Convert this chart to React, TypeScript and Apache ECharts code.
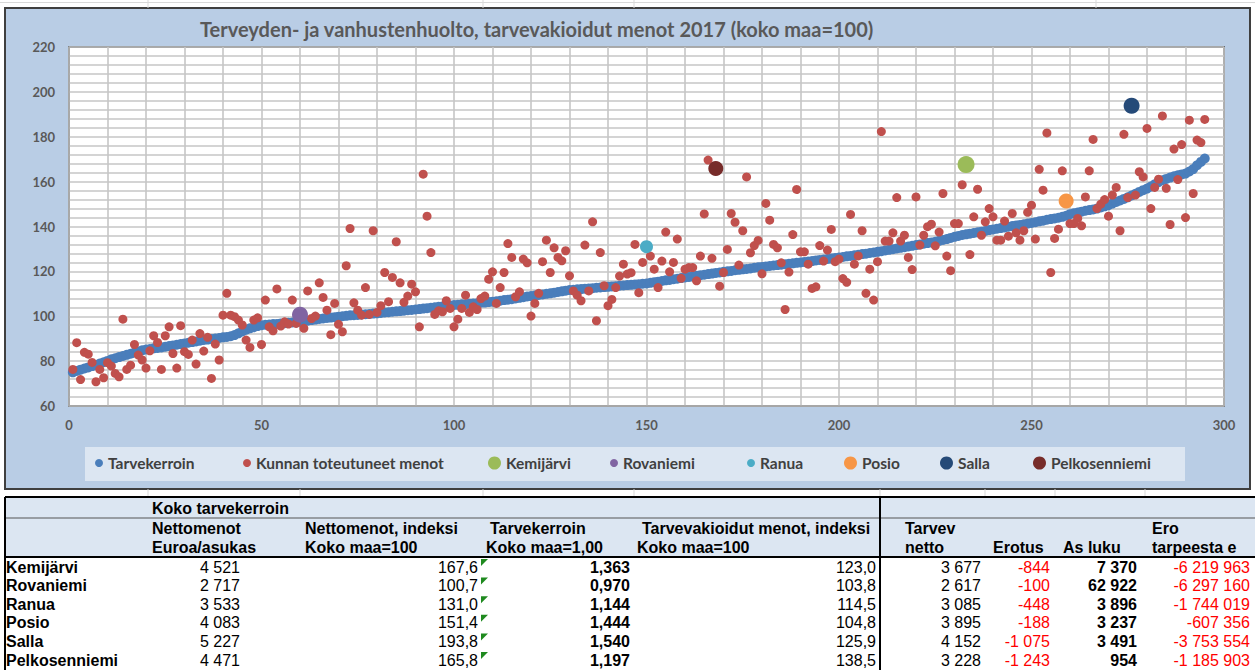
import React, { useEffect, useRef } from "react";
import * as echarts from "echarts";

const tarvekerroin = [
  75.0, 75.6, 76.2, 76.7, 77.2, 77.8, 78.3, 78.9, 79.5, 80.1,
  80.8, 81.3, 81.8, 82.3, 82.8, 83.3, 83.8, 84.3, 84.8, 85.2,
  85.4, 85.7, 85.9, 86.1, 86.4, 86.7, 87.0, 87.3, 87.6, 87.9,
  88.2, 88.5, 88.8, 89.1, 89.4, 89.6, 89.9, 90.1, 90.3, 90.6,
  90.8, 91.1, 91.6, 92.4, 93.2, 94.0, 94.6, 95.1, 95.6, 96.0,
  96.2, 96.3, 96.5, 96.6, 96.8, 96.9, 97.1, 97.2, 97.3, 97.5,
  97.8, 98.0, 98.3, 98.5, 98.8, 99.0, 99.2, 99.4, 99.6, 99.8,
  100.0, 100.2, 100.4, 100.5, 100.6, 100.8, 100.9, 101.0, 101.2, 101.3,
  101.5, 101.7, 101.8, 102.0, 102.2, 102.3, 102.5, 102.7, 102.8, 103.0,
  103.2, 103.4, 103.6, 103.8, 104.0, 104.2, 104.4, 104.6, 104.8, 105.0,
  105.1, 105.3, 105.4, 105.6, 105.7, 105.8, 106.0, 106.1, 106.3, 106.5,
  106.7, 106.9, 107.2, 107.4, 107.6, 107.9, 108.2, 108.5, 108.8, 109.0,
  109.2, 109.5, 109.7, 110.0, 110.2, 110.5, 110.8, 111.1, 111.4, 111.7,
  111.8, 112.0, 112.1, 112.3, 112.4, 112.5, 112.7, 112.8, 113.0, 113.1,
  113.3, 113.4, 113.6, 113.7, 113.9, 114.0, 114.2, 114.3, 114.5, 114.6,
  114.9, 115.2, 115.4, 115.7, 116.0, 116.2, 116.5, 116.7, 117.0, 117.3,
  117.5, 117.8, 118.0, 118.3, 118.5, 118.8, 119.0, 119.3, 119.5, 119.8,
  120.0, 120.2, 120.5, 120.7, 120.9, 121.1, 121.3, 121.6, 121.8, 122.0,
  122.2, 122.4, 122.6, 122.8, 123.0, 123.2, 123.4, 123.6, 123.8, 124.0,
  124.2, 124.4, 124.6, 124.9, 125.1, 125.3, 125.5, 125.7, 126.0, 126.2,
  126.4, 126.7, 126.9, 127.2, 127.4, 127.7, 127.9, 128.2, 128.4, 128.7,
  129.0, 129.3, 129.6, 129.9, 130.2, 130.5, 130.8, 131.1, 131.4, 131.7,
  132.0, 132.3, 132.6, 132.9, 133.2, 133.6, 134.0, 134.4, 134.9, 135.4,
  135.8, 136.2, 136.5, 136.8, 137.1, 137.4, 137.7, 138.0, 138.4, 138.7,
  139.0, 139.3, 139.6, 139.9, 140.2, 140.5, 140.7, 141.0, 141.3, 141.6,
  141.9, 142.3, 142.6, 143.0, 143.3, 143.6, 143.9, 144.3, 144.8, 145.5,
  145.9, 146.2, 146.6, 147.0, 147.3, 147.6, 148.0, 148.5, 149.0, 149.5,
  150.2, 150.9, 151.6, 152.3, 153.0, 153.8, 154.6, 155.4, 156.2, 156.9,
  157.8, 158.8, 159.8, 160.6, 161.2, 161.8, 162.4, 162.8, 163.2, 163.6,
  164.5, 165.6, 167.3, 168.8, 170.3,
];

const toteutuneet = [
  76.3, 88.2, 71.8, 83.9, 83.1, 79.4, 70.8, 76.3, 72.6, 79.3,
  77.8, 74.5, 73.0, 98.7, 76.3, 78.2, 87.4, 82.7, 80.5, 76.9,
  84.6, 91.3, 88.3, 76.3, 91.3, 95.3, 83.4, 76.9, 95.8, 84.2,
  83.0, 89.4, 78.7, 92.3, 84.5, 90.6, 72.3, 87.6, 80.5, 100.5,
  110.2, 100.5, 99.8, 98.3, 96.1, 89.4, 86.1, 98.3, 99.3, 87.4,
  107.2, 95.3, 93.5, 112.2, 95.6, 97.5, 96.5, 107.2, 96.8, 100.7,
  94.6, 111.3, 99.0, 100.1, 114.9, 108.4, 102.7, 91.8, 105.7, 96.4,
  93.1, 122.5, 139.1, 106.0, 102.7, 100.5, 112.8, 100.8, 138.1, 101.7,
  104.7, 119.5, 106.5, 117.3, 133.2, 114.9, 106.2, 109.0, 114.3, 110.9,
  95.3, 163.3, 144.6, 128.4, 100.8, 102.4, 102.0, 106.9, 103.5, 95.3,
  98.7, 103.5, 109.4, 101.7, 104.2, 103.0, 107.9, 109.0, 116.5, 119.8,
  105.7, 112.8, 119.5, 132.4, 126.2, 108.7, 110.9, 125.5, 123.8, 100.1,
  105.7, 110.2, 124.3, 133.9, 119.5, 130.5, 126.2, 124.7, 129.2, 118.0,
  111.3, 109.4, 106.9, 131.7, 111.3, 142.1, 98.0, 128.4, 113.6, 104.7,
  107.5, 112.8, 117.9, 123.2, 118.8, 119.4, 132.0, 110.5, 124.0, 131.0,
  126.8, 121.0, 112.8, 124.6, 137.5, 119.8, 124.0, 134.4, 116.9, 121.0,
  121.7, 121.7, 115.8, 126.8, 145.6, 169.6, 125.8, 165.8, 113.4, 119.5,
  129.8, 145.8, 141.9, 122.8, 138.1, 162.1, 128.3, 131.5, 133.8, 118.9,
  150.3, 142.8, 132.0, 130.5, 123.8, 103.0, 119.7, 136.4, 156.5, 128.7,
  128.7, 123.2, 112.4, 113.1, 131.5, 124.6, 129.5, 138.7, 124.3, 125.5,
  116.8, 115.1, 145.4, 123.2, 126.9, 138.1, 110.2, 121.0, 107.2, 124.3,
  182.3, 133.5, 133.5, 137.2, 152.9, 133.5, 136.1, 126.2, 120.8, 153.2,
  131.7, 136.1, 139.9, 141.0, 131.4, 137.5, 154.7, 126.8, 120.3, 141.3,
  141.3, 158.6, 167.6, 127.5, 144.3, 156.6, 136.1, 142.1, 148.0, 144.3,
  133.9, 133.9, 142.4, 135.7, 145.8, 137.2, 133.9, 138.1, 146.3, 149.5,
  134.4, 165.5, 156.2, 181.7, 119.5, 134.7, 138.8, 164.8, 151.4, 141.3,
  141.3, 143.6, 140.3, 153.2, 164.8, 178.8, 148.0, 150.0, 152.0, 144.6,
  154.0, 157.4, 138.1, 181.1, 152.9, 193.8, 154.0, 164.4, 162.1, 183.7,
  148.0, 157.4, 161.1, 189.3, 157.0, 140.9, 174.5, 160.9, 176.5, 144.0,
  187.4, 154.7, 178.5, 177.4, 187.7,
];

const highlightNames = ["Kemijärvi", "Rovaniemi", "Ranua", "Posio", "Salla", "Pelkosenniemi"];
const highlightX = [233, 60, 150, 259, 276, 168];
const highlightY = [167.6, 100.7, 131.0, 151.4, 193.8, 165.8];
const highlightColors = ["#9bbb59", "#8064a2", "#4bacc6", "#f79646", "#254a78", "#772c2a"];
const highlightSizes = [17, 16, 13, 15, 16, 15];

const titleText = "Terveyden- ja vanhustenhuolto, tarvevakioidut menot 2017 (koko maa=100)";
const seriesNames = ["Tarvekerroin", "Kunnan toteutuneet menot"];

// Table
const rowNames = ["Kemijärvi", "Rovaniemi", "Ranua", "Posio", "Salla", "Pelkosenniemi"];
const nettomenot = ["4 521", "2 717", "3 533", "4 083", "5 227", "4 471"];
const nettoIndeksi = ["167,6", "100,7", "131,0", "151,4", "193,8", "165,8"];
const tarveKerroinCol = ["1,363", "0,970", "1,144", "1,444", "1,540", "1,197"];
const tarvevakIndeksi = ["123,0", "103,8", "114,5", "104,8", "125,9", "138,5"];
const tarvevNetto = ["3 677", "2 617", "3 085", "3 895", "4 152", "3 228"];
const erotus = ["-844", "-100", "-448", "-188", "-1 075", "-1 243"];
const asLuku = ["7 370", "62 922", "3 896", "3 237", "3 491", "954"];
const eroTarpeesta = ["-6 219 963", "-6 297 160", "-1 744 019", "-607 356", "-3 753 554", "-1 185 903"];

const FONT = "Liberation Sans";

function txt(text: string, x: number, y: number, opts: any = {}) {
  return {
    type: "text",
    x,
    y,
    z: 10,
    style: {
      text,
      fill: opts.fill || "#000",
      font: `${opts.bold ? "bold " : ""}${opts.size || 16}px "${FONT}"`,
      textAlign: opts.align || "left",
      textVerticalAlign: "middle",
    },
  };
}

function line(x1: number, y1: number, x2: number, y2: number, color: string, w: number) {
  return { type: "line", z: 9, shape: { x1, y1, x2, y2 }, style: { stroke: color, lineWidth: w } };
}

export default function App() {
  const ref = useRef<HTMLDivElement>(null);
  useEffect(() => {
    if (!ref.current) return;
    const chart = echarts.init(ref.current, null, { renderer: "svg" });

    const legendNames = [...seriesNames, ...highlightNames];
    const legendLeft = [95, 243, 488, 610, 747, 844, 940, 1033];
    const legendIcon = [8, 8, 13, 8, 8, 13, 13, 13];

    const g: any[] = [];
    // spreadsheet gridlines in background
    g.push(line(0, 2.5, 1255, 2.5, "#d9d9d9", 1));
    [148, 483, 634, 1096].forEach((x) => g.push(line(x, 0, x, 8, "#d9d9d9", 1)));
    [148, 300, 483, 634, 880, 985, 1055, 1145].forEach((x) => g.push(line(x, 489, x, 497, "#d9d9d9", 1)));
    // chart frame
    g.push({
      type: "rect",
      z: -100,
      shape: { x: 5, y: 8, width: 1245, height: 481 },
      style: { fill: "#b9cde5", stroke: "#3f3f3f", lineWidth: 2 },
    });
    // legend box
    g.push({
      type: "rect",
      z: -90,
      shape: { x: 85, y: 447, width: 1100, height: 34 },
      style: { fill: "#dce6f2" },
    });
    // table header background
    g.push({
      type: "rect",
      z: 5,
      shape: { x: 5, y: 497, width: 1250, height: 60 },
      style: { fill: "#dce6f2" },
    });
    g.push(line(5, 497, 1255, 497, "#000", 2));
    g.push(line(5, 518, 1255, 518, "#555", 1));
    g.push(line(5, 557, 1255, 557, "#000", 2));
    g.push(line(5, 497, 5, 670, "#000", 2));
    g.push(line(880, 497, 880, 670, "#000", 2));

    const r1 = 508, r2 = 528, r3 = 547;
    g.push(txt("Koko tarvekerroin", 152, r1, { bold: true }));
    g.push(txt("Nettomenot", 152, r2, { bold: true }));
    g.push(txt("Euroa/asukas", 152, r3, { bold: true }));
    g.push(txt("Nettomenot, indeksi", 305, r2, { bold: true }));
    g.push(txt("Koko maa=100", 305, r3, { bold: true }));
    g.push(txt("Tarvekerroin", 490, r2, { bold: true }));
    g.push(txt("Koko maa=1,00", 486, r3, { bold: true }));
    g.push(txt("Tarvevakioidut menot, indeksi", 642, r2, { bold: true }));
    g.push(txt("Koko maa=100", 637, r3, { bold: true }));
    g.push(txt("Tarvev", 905, r2, { bold: true }));
    g.push(txt("netto", 905, r3, { bold: true }));
    g.push(txt("Erotus", 993, r3, { bold: true }));
    g.push(txt("As luku", 1063, r3, { bold: true }));
    g.push(txt("Ero", 1152, r2, { bold: true }));
    g.push(txt("tarpeesta e", 1152, r3, { bold: true }));

    rowNames.forEach((name, i) => {
      const y = 567 + i * 18.6;
      g.push(txt(name, 6, y, { bold: true }));
      g.push(txt(nettomenot[i], 240, y, { align: "right" }));
      g.push(txt(nettoIndeksi[i], 478, y, { align: "right" }));
      g.push({
        type: "polygon",
        z: 10,
        shape: { points: [[481, y - 8], [488, y - 8], [481, y - 1]] },
        style: { fill: "#1f8a1f" },
      });
      g.push(txt(tarveKerroinCol[i], 630, y, { align: "right", bold: true }));
      g.push(txt(tarvevakIndeksi[i], 876, y, { align: "right" }));
      g.push(txt(tarvevNetto[i], 981, y, { align: "right" }));
      g.push(txt(erotus[i], 1050, y, { align: "right", fill: "#ff0000" }));
      g.push(txt(asLuku[i], 1137, y, { align: "right", bold: true }));
      g.push(txt(eroTarpeesta[i], 1250, y, { align: "right", fill: "#ff0000" }));
    });

    const axisLabelStyle = { color: "#595959", fontWeight: "bold", fontSize: 13, fontFamily: "Lato" };
    const gridLine = { lineStyle: { color: "#c6c6c6", width: 1.6 } };

    const option: any = {
      animation: false,
      textStyle: { fontFamily: "Lato" },
      title: {
        text: titleText,
        left: 200,
        top: 19,
        padding: 0,
        textStyle: { fontSize: 20, fontWeight: "bold", color: "#595959", fontFamily: "Lato" },
      },
      grid: {
        left: 69,
        top: 47,
        width: 1155,
        height: 359,
        show: true,
        backgroundColor: "#ffffff",
        borderColor: "#262626",
        borderWidth: 1.5,
      },
      xAxis: {
        type: "value",
        min: 0,
        max: 300,
        interval: 50,
        axisLine: { show: true, lineStyle: { color: "#a6a6a6", width: 1.5 } },
        axisTick: { show: false },
        minorTick: { show: false, splitNumber: 5 },
        splitLine: { show: true, ...gridLine },
        minorSplitLine: { show: true, ...gridLine },
        axisLabel: { ...axisLabelStyle, margin: 12 },
      },
      yAxis: {
        type: "value",
        min: 60,
        max: 220,
        interval: 20,
        axisLine: { show: true, lineStyle: { color: "#a6a6a6", width: 1.5 } },
        axisTick: { show: false },
        minorTick: { show: false, splitNumber: 5 },
        splitLine: { show: true, ...gridLine },
        minorSplitLine: { show: true, ...gridLine },
        axisLabel: { ...axisLabelStyle, margin: 14 },
      },
      legend: legendNames.map((n, i) => ({
        data: [n],
        left: legendLeft[i],
        top: 455,
        padding: 0,
        itemWidth: legendIcon[i],
        itemHeight: legendIcon[i],
        icon: "circle",
        selectedMode: false,
        textStyle: { fontSize: 15.5, color: "#404040", fontFamily: "Lato", fontWeight: "bold" },
      })),
      series: [
        {
          name: seriesNames[0],
          type: "scatter",
          data: tarvekerroin.map((v, i) => [i + 1, v]),
          symbolSize: 10,
          itemStyle: { color: "#4a7ebb", opacity: 1 },
          z: 2,
        },
        {
          name: seriesNames[1],
          type: "scatter",
          data: toteutuneet.map((v, i) => [i + 1, v]),
          symbolSize: 9,
          itemStyle: { color: "#c0504d", opacity: 1 },
          z: 3,
        },
        ...highlightNames.map((n, i) => ({
          name: n,
          type: "scatter",
          data: [[highlightX[i], highlightY[i]]],
          symbolSize: highlightSizes[i],
          itemStyle: { color: highlightColors[i], opacity: 1 },
          z: 4,
        })),
      ],
      graphic: { elements: g },
    };
    chart.setOption(option);
    return () => chart.dispose();
  }, []);

  return (
    <div
      ref={ref}
      style={{ position: "absolute", left: 0, top: 0, width: 1255, height: 670, background: "#fff" }}
    />
  );
}
